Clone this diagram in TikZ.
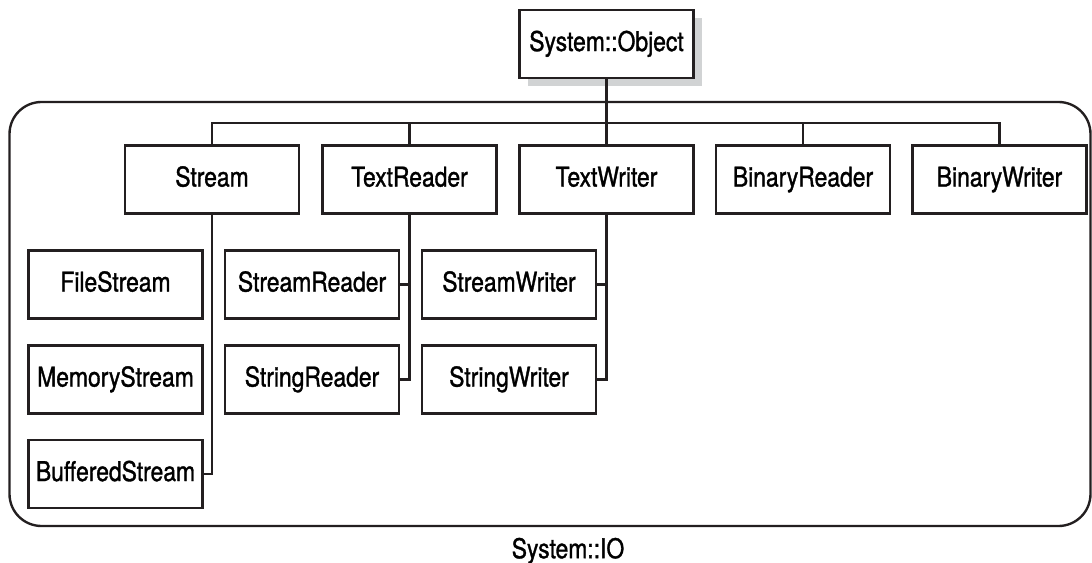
\documentclass[tikz,border=0pt]{standalone}
\usepackage{fontspec}
\setmainfont{TeX Gyre Heros}[FakeStretch=0.84,FakeBold=1.2]
\usepackage{tikz}
\usetikzlibrary{shadows}
\definecolor{ink}{HTML}{231F20}
\definecolor{shade}{HTML}{D1D3D4}

\begin{document}
\begin{tikzpicture}[font=\fontsize{15.5}{18}\selectfont,
  b/.style={draw=ink,line width=1.35pt,fill=white,minimum width=3.48cm,minimum height=1.36cm,inner sep=0pt,text height=11.5pt,text depth=3.5pt},
  h/.style={b,general shadow={fill=shade,shadow xshift=0.16cm,shadow yshift=-0.17cm}},
  l/.style={draw=ink,line width=1.35pt}]
\useasboundingbox (0,0) rectangle (21.84,-11.26);

% namespace frame
\draw[l,rounded corners=0.64cm] (0.19,-2.04) rectangle (21.81,-10.52);
\node (io) at (11.36,-11.02) {System::IO};

\node[h] (obj) at (12.13,-0.88) {System::Object};

\node[b] (stream) at (4.24,-3.59)  {Stream};
\node[b] (trd)    at (8.19,-3.59)  {TextReader};
\node[b] (twr)    at (12.13,-3.59) {TextWriter};
\node[b] (brd)    at (16.06,-3.59) {BinaryReader};
\node[b] (bwr)    at (19.99,-3.59) {BinaryWriter};

\node[b] (fs)   at (2.31,-5.69) {FileStream};
\node[b] (ms)   at (2.31,-7.59) {MemoryStream};
\node[b] (bufs) at (2.31,-9.48) {BufferedStream};

\node[b] (srd)  at (6.24,-5.69) {StreamReader};
\node[b] (strd) at (6.24,-7.59) {StringReader};

\node[b] (swr)  at (10.18,-5.69) {StreamWriter};
\node[b] (stwr) at (10.18,-7.59) {StringWriter};

% top level bus
\coordinate (bus) at (12.13,-2.46);
\draw[l] (obj) -- (twr);
\draw[l] (stream.north) |- (bus) -| (bwr.north);
\draw[l] (trd.north) |- (bus);
\draw[l] (brd.north) |- (bus);

% derived classes hang off the right side
\draw[l] (bufs.east) -| (stream.south);
\draw[l] (srd.east)  -| (trd.south);
\draw[l] (strd.east) -| (trd.south);
\draw[l] (swr.east)  -| (twr.south);
\draw[l] (stwr.east) -| (twr.south);
\end{tikzpicture}
\end{document}
